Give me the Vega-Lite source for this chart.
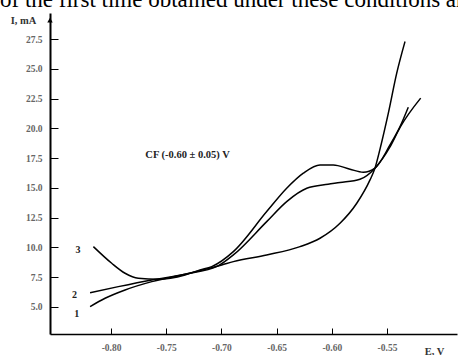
{
  "$schema": "https://vega.github.io/schema/vega-lite/v6.json",
  "width": 407,
  "height": 321,
  "autosize": "none",
  "padding": {"left": 50, "top": 13, "right": 1, "bottom": 21},
  "background": "white",
  "config": {
    "view": {"stroke": null},
    "axis": {"grid": false}
  },
  "datasets": {
    "curves": [
      {"c": "1", "x": -0.819, "y": 5.03},
      {"c": "1", "x": -0.8054, "y": 5.73},
      {"c": "1", "x": -0.7873, "y": 6.43},
      {"c": "1", "x": -0.7631, "y": 7.13},
      {"c": "1", "x": -0.733, "y": 7.75},
      {"c": "1", "x": -0.6997, "y": 8.53},
      {"c": "1", "x": -0.6892, "y": 8.81},
      {"c": "1", "x": -0.659, "y": 9.37},
      {"c": "1", "x": -0.6288, "y": 10.07},
      {"c": "1", "x": -0.6107, "y": 10.77},
      {"c": "1", "x": -0.5926, "y": 12.03},
      {"c": "1", "x": -0.5774, "y": 13.71},
      {"c": "1", "x": -0.5654, "y": 15.67},
      {"c": "1", "x": -0.5609, "y": 16.66},
      {"c": "1", "x": -0.5563, "y": 18.28},
      {"c": "1", "x": -0.5488, "y": 21.28},
      {"c": "1", "x": -0.5412, "y": 24.64},
      {"c": "1", "x": -0.5337, "y": 27.29},
      {"c": "2", "x": -0.819, "y": 6.2},
      {"c": "2", "x": -0.7934, "y": 6.71},
      {"c": "2", "x": -0.7631, "y": 7.27},
      {"c": "2", "x": -0.733, "y": 7.75},
      {"c": "2", "x": -0.7031, "y": 8.45},
      {"c": "2", "x": -0.6892, "y": 9.37},
      {"c": "2", "x": -0.659, "y": 12.17},
      {"c": "2", "x": -0.6409, "y": 13.85},
      {"c": "2", "x": -0.6227, "y": 14.97},
      {"c": "2", "x": -0.6034, "y": 15.31},
      {"c": "2", "x": -0.5926, "y": 15.45},
      {"c": "2", "x": -0.5745, "y": 15.73},
      {"c": "2", "x": -0.5609, "y": 16.66},
      {"c": "2", "x": -0.5473, "y": 18.44},
      {"c": "2", "x": -0.5382, "y": 20.08},
      {"c": "2", "x": -0.5195, "y": 22.54},
      {"c": "3", "x": -0.816, "y": 10.07},
      {"c": "3", "x": -0.7994, "y": 8.67},
      {"c": "3", "x": -0.7873, "y": 7.83},
      {"c": "3", "x": -0.7753, "y": 7.41},
      {"c": "3", "x": -0.7572, "y": 7.33},
      {"c": "3", "x": -0.733, "y": 7.69},
      {"c": "3", "x": -0.7194, "y": 8.11},
      {"c": "3", "x": -0.7088, "y": 8.39},
      {"c": "3", "x": -0.6892, "y": 9.65},
      {"c": "3", "x": -0.659, "y": 13.01},
      {"c": "3", "x": -0.6409, "y": 14.97},
      {"c": "3", "x": -0.6258, "y": 16.24},
      {"c": "3", "x": -0.6107, "y": 16.93},
      {"c": "3", "x": -0.5986, "y": 16.93},
      {"c": "3", "x": -0.5835, "y": 16.57},
      {"c": "3", "x": -0.5715, "y": 16.32},
      {"c": "3", "x": -0.5609, "y": 16.66},
      {"c": "3", "x": -0.5473, "y": 18.61},
      {"c": "3", "x": -0.5382, "y": 20.15},
      {"c": "3", "x": -0.5307, "y": 21.78}
    ],
    "numbers": [
      {"t": "3", "x": -0.830, "y": 9.79},
      {"t": "2", "x": -0.833, "y": 6.0},
      {"t": "1", "x": -0.831, "y": 4.41}
    ],
    "note": [
      {"t": "CF (-0.60 ± 0.05) V", "x": -0.7307, "y": 17.77}
    ],
    "header": [
      {"t": "of the first time obtained under these conditions are", "x": -0.9006, "y": 30.19}
    ],
    "arrow": [
      {"x": -0.8553, "y": 29.1}
    ]
  },
  "encoding": {
    "x": {
      "field": "x", "type": "quantitative",
      "scale": {"domain": [-0.8553, -0.4866], "nice": false, "zero": false},
      "axis": {
        "values": [-0.80, -0.75, -0.70, -0.65, -0.60, -0.55],
        "labelExpr": "'-' + format(abs(datum.value), '.2f')",
        "labelOverlap": false,
        "domainColor": "black", "domainWidth": 1.5,
        "tickColor": "black", "tickSize": -6, "tickWidth": 1,
        "labelPadding": 14,
        "labelFont": "Liberation Serif", "labelFontSize": 9.5, "labelFontWeight": "bold", "labelColor": "#666",
        "title": "E, V",
        "titleX": 384, "titleY": 17, "titleAlign": "center", "titleBaseline": "middle",
        "titleFont": "Liberation Serif", "titleFontSize": 10.5, "titleFontWeight": "bold", "titleColor": "#333"
      }
    },
    "y": {
      "field": "y", "type": "quantitative",
      "scale": {"domain": [2.73, 29.69], "nice": false, "zero": false},
      "axis": {
        "values": [5, 7.5, 10, 12.5, 15, 17.5, 20, 22.5, 25, 27.5],
        "labelExpr": "format(datum.value, '.1f')",
        "labelOverlap": false,
        "domainColor": "black", "domainWidth": 2,
        "tickColor": "black", "tickSize": -8, "tickWidth": 1,
        "labelPadding": 16,
        "labelFont": "Liberation Serif", "labelFontSize": 9.5, "labelFontWeight": "bold", "labelColor": "#666",
        "title": "I, mA",
        "titleAngle": 0, "titleX": -27, "titleY": 7, "titleAlign": "center", "titleBaseline": "middle",
        "titleFont": "Liberation Serif", "titleFontSize": 10.5, "titleFontWeight": "bold", "titleColor": "#333"
      }
    }
  },
  "layer": [
    {
      "data": {"name": "curves"},
      "mark": {"type": "line", "color": "black", "strokeWidth": 1.5, "interpolate": "monotone"},
      "encoding": {
        "detail": {"field": "c", "type": "nominal"}
      }
    },
    {
      "data": {"name": "numbers"},
      "mark": {"type": "text", "font": "Liberation Serif", "fontSize": 10, "fontWeight": "bold", "color": "#222", "align": "center", "baseline": "middle"},
      "encoding": {
        "text": {"field": "t"}
      }
    },
    {
      "data": {"name": "note"},
      "mark": {"type": "text", "font": "Liberation Serif", "fontSize": 10.5, "fontWeight": "bold", "color": "#222", "align": "center", "baseline": "middle"},
      "encoding": {
        "text": {"field": "t"}
      }
    },
    {
      "data": {"name": "header"},
      "mark": {"type": "text", "font": "Liberation Serif", "fontSize": 23, "fontWeight": "normal", "color": "black", "align": "left", "baseline": "alphabetic"},
      "encoding": {
        "text": {"field": "t"}
      }
    },
    {
      "data": {"name": "arrow"},
      "mark": {"type": "point", "shape": "triangle-up", "filled": true, "color": "black", "size": 30, "opacity": 1},
      "encoding": {}
    }
  ]
}
